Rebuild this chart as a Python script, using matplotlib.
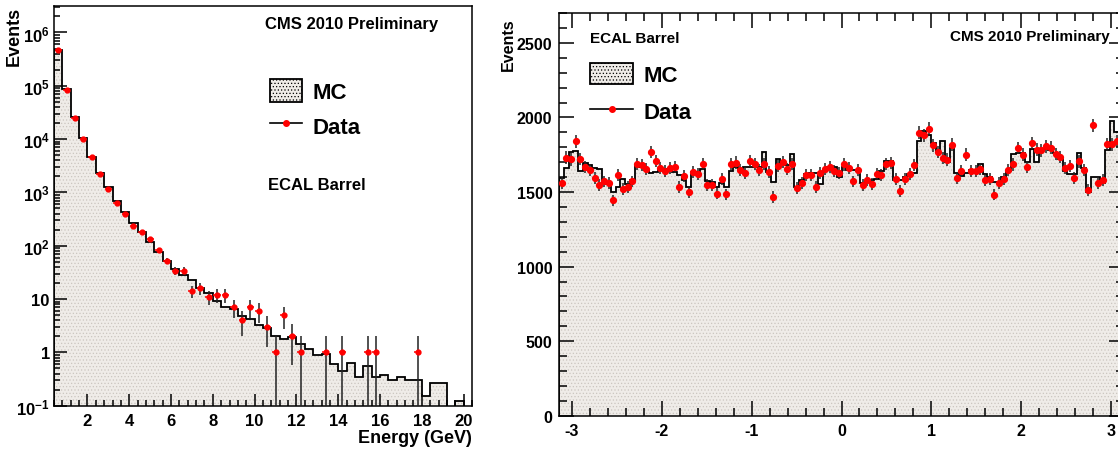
import numpy as np
import matplotlib
matplotlib.use("Agg")
import matplotlib.pyplot as plt
from matplotlib.patches import Patch
from matplotlib.lines import Line2D
from matplotlib.ticker import MultipleLocator, LogLocator, FixedLocator, NullFormatter

plt.rcParams['font.family'] = ['Liberation Sans', 'DejaVu Sans']
plt.rcParams['font.weight'] = 'bold'
plt.rcParams['mathtext.fontset'] = 'custom'
plt.rcParams['mathtext.bf'] = 'Liberation Sans:bold'
plt.rcParams['mathtext.rm'] = 'Liberation Sans:bold'
plt.rcParams['mathtext.default'] = 'bf'
plt.rcParams['axes.unicode_minus'] = False
plt.rcParams['hatch.linewidth'] = 0.5

# ---- left: energy spectrum, 50 bins of 0.4 GeV ----
e_lo, e_hi, e_nbins = 0.4, 20.4, 50
mc_energy = [4.7e5, 8.7e4, 2.6e4, 1.05e4, 4700, 2300, 1280, 698, 435, 267,
             183, 116, 75, 52, 36.5, 28, 23, 16, 13, 9.4,
             7.0, 6.5, 4.9, 4.2, 3.3, 2.9, 2.0, 1.8, 1.97, 1.44,
             1.17, 0.89, 0.92, 0.61, 0.45, 0.62, 0.34, 0.56, 0.35, 0.38,
             0.30, 0.35, 0.30, 0.30, 0.155, 0.27, 0.27, 0, 0.12, 0]
data_energy = [460000, 83000, 25000, 10000, 4600, 2240, 1140, 632, 394, 237,
               179, 134, 83, 52, 34, 34, 14, 16, 11, 12,
               12, 7, 4, 7, 6, 3, 1, 5, 2, 1,
               0, 0, 1, 0, 1, 0, 0, 1, 1, 0,
               0, 0, 0, 1, 0, 0, 0, 0, 0, 0]

# ---- right: phi distribution, 120 bins over [-pi, pi] ----
phi_nbins = 120
mc_phi = [1596, 1661, 1768, 1775, 1638, 1695, 1679, 1661, 1652, 1567,
          1556, 1500, 1533, 1589, 1551, 1580, 1679, 1668, 1645, 1630,
          1634, 1645, 1656, 1645, 1634, 1611, 1580, 1533, 1634, 1634,
          1656, 1571, 1567, 1533, 1560, 1533, 1638, 1668, 1645, 1668,
          1668, 1668, 1668, 1768, 1634, 1567, 1723, 1690, 1679, 1757,
          1533, 1580, 1623, 1630, 1630, 1556, 1640, 1668, 1668, 1600,
          1668, 1650, 1645, 1640, 1560, 1565, 1580, 1590, 1640, 1705,
          1705, 1580, 1580, 1600, 1620, 1625, 1840, 1910, 1880, 1830,
          1770, 1840, 1700, 1795, 1630, 1610, 1630, 1650, 1640, 1690,
          1620, 1600, 1565, 1560, 1600, 1640, 1755, 1760, 1760, 1700,
          1790, 1700, 1790, 1790, 1780, 1760, 1720, 1640, 1620, 1620,
          1762, 1660, 1500, 1600, 1600, 1560, 1780, 1975, 1905, 1880]
data_phi = [1560, 1730, 1718, 1840, 1723, 1668, 1645, 1594, 1549, 1571,
            1560, 1444, 1616, 1522, 1533, 1571, 1690, 1679, 1656, 1768,
            1708, 1663, 1638, 1661, 1668, 1533, 1605, 1500, 1634, 1623,
            1690, 1545, 1549, 1489, 1585, 1484, 1690, 1697, 1645, 1630,
            1708, 1690, 1645, 1690, 1634, 1466, 1672, 1701, 1656, 1690,
            1529, 1560, 1614, 1616, 1533, 1630, 1652, 1668, 1638, 1627,
            1685, 1661, 1571, 1645, 1545, 1578, 1556, 1618, 1611, 1690,
            1695, 1589, 1507, 1589, 1623, 1679, 1898, 1880, 1925, 1813,
            1768, 1728, 1717, 1817, 1596, 1638, 1750, 1638, 1638, 1652,
            1578, 1589, 1482, 1560, 1589, 1649, 1685, 1795, 1750, 1668,
            1829, 1784, 1779, 1806, 1797, 1755, 1735, 1661, 1674, 1596,
            1705, 1649, 1515, 1947, 1562, 1582, 1819, 1819, 1842, 1830]

fill_col = '#efece8'
dot_col = '#cbc6c0'


def draw_hist(ax, edges, vals, floor):
    v = np.where(np.asarray(vals) > 0, vals, floor)
    ax.stairs(v, edges, baseline=floor, fill=True, facecolor=fill_col,
              edgecolor='none', zorder=1)
    ax.stairs(v, edges, baseline=floor, fill=True, facecolor='none',
              edgecolor=dot_col, hatch='.....', linewidth=0, zorder=1.5)
    ax.stairs(v, edges, baseline=floor, color='black', linewidth=1.3,
              zorder=2)


def legend(ax, x, y, fs, hl, hh, sp):
    handles = [Patch(facecolor=fill_col, edgecolor='black', hatch='.....',
                     linewidth=1.3),
               Line2D([], [], color='black', lw=1.2, marker='o',
                      markersize=4, markerfacecolor='red',
                      markeredgecolor='red')]
    leg = ax.legend(handles, ['MC', 'Data'], loc='upper left',
                    bbox_to_anchor=(x, y), frameon=False, fontsize=fs,
                    handlelength=hl, handleheight=hh, handletextpad=0.45,
                    labelspacing=sp, borderpad=0, borderaxespad=0)
    for t in leg.get_texts():
        t.set_fontweight('bold')
    return leg


fig = plt.figure(figsize=(11.18, 4.56), dpi=100)

# ===== left panel =====
ax1 = fig.add_axes([0.0483, 0.1081, 0.3739, 0.8759])
e_edges = np.linspace(e_lo, e_hi, e_nbins + 1)
e_cent = 0.5 * (e_edges[1:] + e_edges[:-1])
draw_hist(ax1, e_edges, mc_energy, 1e-3)
de = np.asarray(data_energy, dtype=float)
m = de > 0
err_up = np.sqrt(de[m])
err_lo = np.minimum(np.sqrt(de[m]), de[m] - 1e-3)
ax1.errorbar(e_cent[m], de[m], yerr=[err_lo, err_up], fmt='none',
             ecolor='#222222', elinewidth=1.1, zorder=3)
ax1.errorbar(e_cent[m], de[m], xerr=0.17, fmt='o', color='red',
             markersize=3.5, elinewidth=1.1, zorder=4)
ax1.set_yscale('log')
ax1.set_xlim(e_lo, e_hi)
ax1.set_ylim(0.1, 3.1e6)
ax1.xaxis.set_major_locator(MultipleLocator(2))
ax1.xaxis.set_minor_locator(MultipleLocator(0.4))
ax1.xaxis.set_major_formatter(lambda v, p: f'{v:g}' if v >= 2 else '')
ax1.yaxis.set_major_locator(FixedLocator([0.1, 1, 10, 1e2, 1e3, 1e4, 1e5, 1e6]))
ax1.yaxis.set_major_formatter(lambda v, p: {0.1: r'$10^{-1}$', 1: '1', 10: '10'}.get(
    round(v, 3), r'$10^{%d}$' % round(np.log10(v))))
ax1.yaxis.set_minor_locator(LogLocator(base=10, subs=np.arange(2, 10), numticks=20))
ax1.yaxis.set_minor_formatter(NullFormatter())
ax1.tick_params(which='both', direction='in', top=False, right=False,
                labelsize=12, width=1.1)
ax1.tick_params(which='major', length=9, pad=5)
ax1.tick_params(axis='y', which='major', pad=3)
ax1.tick_params(which='minor', length=4.5)
for s in ax1.spines.values():
    s.set_linewidth(1.1)
ax1.text(-0.096, 1.0, 'Events', transform=ax1.transAxes, rotation=90,
         ha='center', va='top', fontsize=13, fontweight='bold')
ax1.text(1.0, -0.058, 'Energy (GeV)', transform=ax1.transAxes,
         ha='right', va='top', fontsize=13, fontweight='bold')
ax1.text(0.713, 0.956, 'CMS 2010 Preliminary', transform=ax1.transAxes,
         ha='center', va='center', fontsize=12, fontweight='bold')
ax1.text(0.513, 0.553, 'ECAL Barrel', transform=ax1.transAxes,
         ha='left', va='center', fontsize=12, fontweight='bold')
legend(ax1, 0.517, 0.818, 16, 1.45, 1.2, 0.5)

# ===== right panel =====
ax2 = fig.add_axes([0.5003, 0.0860, 0.5048, 0.8833])
p_edges = np.linspace(-np.pi, np.pi, phi_nbins + 1)
p_cent = 0.5 * (p_edges[1:] + p_edges[:-1])
draw_hist(ax2, p_edges, mc_phi, 0)
dp = np.asarray(data_phi, dtype=float)
ax2.errorbar(p_cent, dp, yerr=np.sqrt(dp), fmt='none', ecolor='#222222',
             elinewidth=1.1, zorder=3)
ax2.plot(p_cent, dp, 'o', color='red', markersize=4.2, zorder=4)
ax2.set_xlim(-np.pi, np.pi)
ax2.set_ylim(0, 2700)
ax2.xaxis.set_major_locator(MultipleLocator(1))
ax2.xaxis.set_minor_locator(MultipleLocator(0.2))
ax2.yaxis.set_major_locator(MultipleLocator(500))
ax2.yaxis.set_minor_locator(MultipleLocator(100))
ax2.tick_params(which='both', direction='in', top=True, right=True,
                labelsize=11.5, width=1.1)
ax2.tick_params(which='major', length=11, pad=5)
ax2.tick_params(which='minor', length=6)
for s in ax2.spines.values():
    s.set_linewidth(1.1)
ax2.text(-0.091, 0.99, 'Events', transform=ax2.transAxes, rotation=90,
         ha='center', va='top', fontsize=11.5, fontweight='bold')
ax2.text(0.995, -0.075, 'φ', transform=ax2.transAxes,
         ha='left', va='top', fontsize=10, fontweight='bold')
ax2.text(0.975, 0.944, 'CMS 2010 Preliminary', transform=ax2.transAxes,
         ha='right', va='center', fontsize=11, fontweight='bold')
ax2.text(0.0544, 0.937, 'ECAL Barrel', transform=ax2.transAxes,
         ha='left', va='center', fontsize=11, fontweight='bold')
legend(ax2, 0.0544, 0.876, 16, 1.95, 1.1, 0.6)

fig.savefig('out.png', dpi=100)
